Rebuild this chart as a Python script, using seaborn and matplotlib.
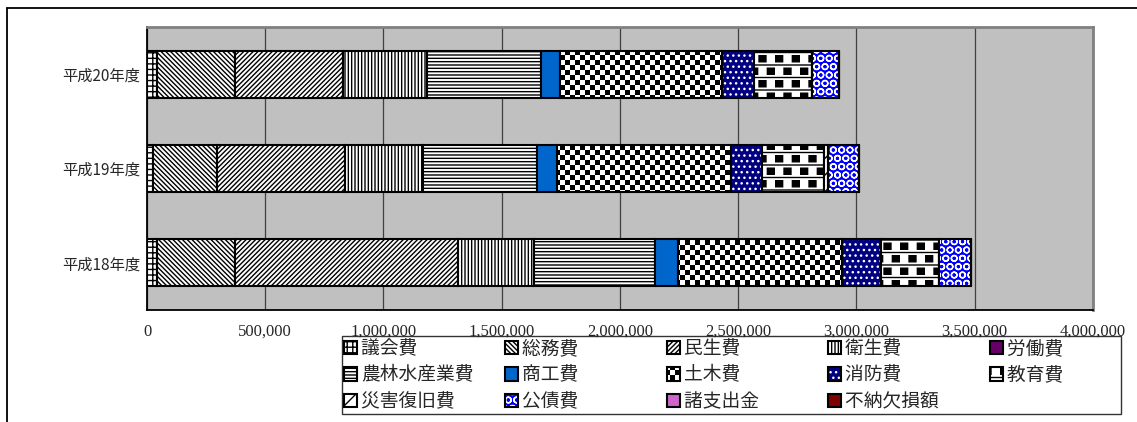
import warnings
import numpy as np
import matplotlib
matplotlib.use("Agg")
import matplotlib.pyplot as plt
import matplotlib.hatch as mhatch
from matplotlib.lines import Line2D
from matplotlib.path import Path
import seaborn as sns

warnings.filterwarnings("ignore", message=".*hatch must consist.*")

# ---- data -----------------------------------------------------------------
years = ["平成20年度", "平成19年度", "平成18年度"]

items = ["議会費", "総務費", "民生費", "衛生費", "労働費",
         "農林水産業費", "商工費", "土木費", "消防費", "教育費",
         "災害復旧費", "公債費", "諸支出金", "不納欠損額"]

gikai = [41000, 25000, 44000]
somu = [331000, 273000, 328000]
minsei = [455000, 540000, 944000]
eisei = [355000, 328000, 320000]
rodo = [0, 0, 0]
norin = [486000, 485000, 512000]
shoko = [77000, 82000, 99000]
doboku = [688000, 737000, 691000]
shobo = [132000, 130000, 165000]
kyoiku = [248000, 263000, 244000]
saigai = [0, 18000, 0]
kosai = [115000, 131000, 137000]
shoshishutsu = [0, 0, 0]
funo = [0, 0, 0]

series = [gikai, somu, minsei, eisei, rodo, norin, shoko, doboku,
          shobo, kyoiku, saigai, kosai, shoshishutsu, funo]

x_ticks = [0, 500000, 1000000, 1500000, 2000000,
           2500000, 3000000, 3500000, 4000000]

# ---- custom fill patterns ---------------------------------------------------
HATCH_LW = 1.0
plt.rcParams["hatch.linewidth"] = HATCH_LW
_SQ = [Path.MOVETO, Path.LINETO, Path.LINETO, Path.LINETO, Path.CLOSEPOLY]


def _rect(x0, y0, x1, y1):
    return [(x0, y0), (x1, y0), (x1, y1), (x0, y1), (x0, y0)]


class CheckerHatch(mhatch.HatchPatternBase):
    """'c': black squares on alternate cells of a board."""

    def __init__(self, hatch, density):
        n = hatch.count("c") * 10
        self.n = n
        self.num_vertices = 5 * (n * n // 2) if n else 0

    def set_vertices_and_codes(self, vertices, codes):
        n = self.n
        step = 1.0 / n
        m = min(HATCH_LW / 144.0, step * 0.3)
        k = 0
        for i in range(n):
            for j in range(n):
                if (i + j) % 2:
                    continue
                vertices[k:k + 5] = _rect(i * step + m, j * step + m,
                                          (i + 1) * step - m, (j + 1) * step - m)
                codes[k:k + 5] = _SQ
                k += 5


class PlaidHatch(mhatch.HatchPatternBase):
    """'e': rows of blocks separated by thin horizontal rules."""

    def __init__(self, hatch, density):
        c = hatch.count("e")
        self.rows = 8 * c
        self.cols = 12 * c
        if c:
            self.num_vertices = self.rows * (self.cols // 2) * 5 + self.rows * 2
        else:
            self.num_vertices = 0

    def set_vertices_and_codes(self, vertices, codes):
        rh = 1.0 / self.rows
        cw = 1.0 / self.cols
        m = HATCH_LW / 144.0
        k = 0
        for r in range(self.rows):
            y0 = r * rh
            for c in range(0, self.cols, 2):
                x0 = (c + (r % 2)) * cw
                vertices[k:k + 5] = _rect(x0 + m, y0 + m,
                                          x0 + cw - m, y0 + 0.6 * rh - m)
                codes[k:k + 5] = _SQ
                k += 5
        for r in range(self.rows):
            y = r * rh + 0.8 * rh
            vertices[k:k + 2] = [(0.0, y), (1.0, y)]
            codes[k:k + 2] = [Path.MOVETO, Path.LINETO]
            k += 2


mhatch._hatch_types.extend([CheckerHatch, PlaidHatch])

# face colour, hatch, hatch colour
styles = {
    "議会費": ("white", "+++", "black"),
    "総務費": ("white", "\\" * 7, "black"),
    "民生費": ("white", "/" * 7, "black"),
    "衛生費": ("white", "|||||", "black"),
    "労働費": ("#660066", None, "black"),
    "農林水産業費": ("white", "-----", "black"),
    "商工費": ("#0066CC", None, "black"),
    "土木費": ("white", "cc", "black"),
    "消防費": ("#000080", "...", "white"),
    "教育費": ("white", "e", "black"),
    "災害復旧費": ("white", "//", "black"),
    "公債費": ("#0000FF", "OO", "white"),
    "諸支出金": ("#CC66CC", None, "black"),
    "不納欠損額": ("#800000", None, "black"),
}

# ---- figure -----------------------------------------------------------------
sns.set_style("white")
plt.rcParams["font.family"] = ["Noto Sans CJK JP", "DejaVu Sans"]
plt.rcParams["hatch.linewidth"] = HATCH_LW

W, H = 1137, 422
fig = plt.figure(figsize=(W / 100, H / 100), dpi=100)
ax = fig.add_axes([147 / W, 1 - 310 / H, (1093 - 147) / W, (310 - 27) / H])
ax.set_facecolor("#C0C0C0")

left = np.zeros(len(years))
handles = []
for item, vals in zip(items, series):
    fc, hatch, hc = styles[item]
    sns.barplot(x=vals, y=years, orient="h", order=years, color=fc,
                saturation=1, width=0.5, errorbar=None, left=left,
                hatch=hatch, edgecolor="black", linewidth=1.5,
                ax=ax, zorder=2)
    cont = ax.containers[-1]
    for bar in cont:
        if hasattr(bar, "set_hatchcolor"):
            bar.set_hatchcolor(hc)
        else:
            bar._hatch_color = matplotlib.colors.to_rgba(hc)
    handles.append(cont.patches[0])
    left = left + np.asarray(vals, dtype=float)

ax.set_xlim(0, 4000000)
ax.set_ylim(2.5, -0.5)
ax.set_xlabel("")
ax.set_ylabel("")

ax.set_xticks(x_ticks)
ax.set_xticklabels([f"{v:,}" for v in x_ticks], fontfamily="Liberation Serif",
                   fontsize=12)
ax.tick_params(axis="x", length=0, pad=10)
ax.tick_params(axis="y", which="major", length=0, pad=5, labelsize=11)
ax.set_yticks([0.5, 1.5], minor=True)
ax.tick_params(axis="y", which="minor", length=4, direction="in",
               color="black", width=1)

ax.xaxis.grid(True, color="#404040", linewidth=0.9)
ax.yaxis.grid(False)
ax.set_axisbelow(True)

for side in ("top", "right"):
    ax.spines[side].set_color("#808080")
    ax.spines[side].set_linewidth(2)
for side in ("left", "bottom"):
    ax.spines[side].set_color("black")
    ax.spines[side].set_linewidth(1.3)

# legend reads across rows: 5 per row
ncol = 5
nrow = -(-len(items) // ncol)
order = [r * ncol + c for c in range(ncol) for r in range(nrow)
         if r * ncol + c < len(items)]
labels = [items[i].ljust(6, "\u3000") for i in order]
leg_handles = [handles[i] for i in order]
leg = fig.legend(leg_handles, labels, ncol=ncol, loc="center",
                 bbox_to_anchor=(342 / W, 1 - 412 / H, (1121 - 342) / W, 74 / H),
                 mode="expand", frameon=True, fancybox=False,
                 prop={"family": "Noto Sans CJK JP", "size": 13.5},
                 handlelength=0.7, handleheight=0.7, handletextpad=0.2,
                 labelspacing=0.3, borderpad=0.1, borderaxespad=0,
                 columnspacing=0.5)
leg.get_frame().set_edgecolor("black")
leg.get_frame().set_linewidth(1.0)

# outer frame of the chart area
fig.add_artist(Line2D([7 / W, 7 / W], [0, 1 - 8 / H], transform=fig.transFigure,
                      color="black", linewidth=1.3))
fig.add_artist(Line2D([7 / W, 1], [1 - 8 / H, 1 - 8 / H], transform=fig.transFigure,
                      color="black", linewidth=1.3))

fig.savefig("out.png", dpi=100)
